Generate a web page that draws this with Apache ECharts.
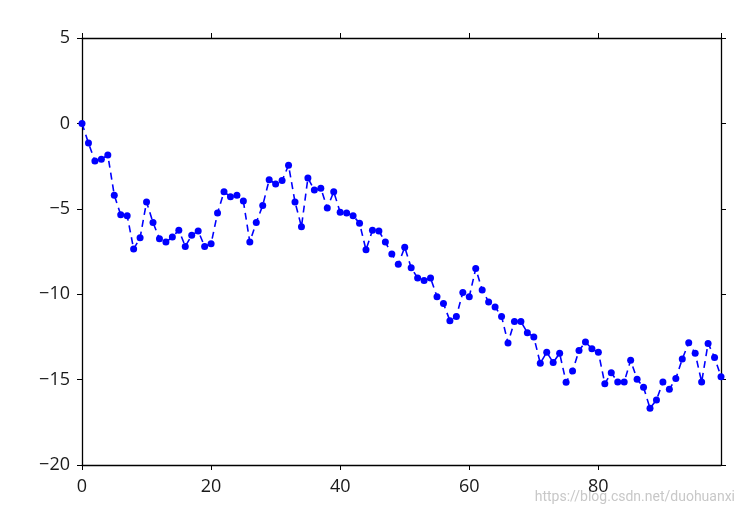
<!DOCTYPE html>
<html>
<head>
<meta charset="utf-8">
<script src="https://cdn.jsdelivr.net/npm/echarts@6/dist/echarts.min.js"></script>
<style>html,body{margin:0;padding:0;background:#fff;}#c{width:743px;height:514px;}</style>
</head>
<body>
<div id="c"></div>
<script>
const xValues = Array.from({length: 100}, (_, i) => i);
const yValues = [
  0, -1.15, -2.2, -2.1, -1.85, -4.2, -5.35, -5.4, -7.35, -6.7,
  -4.6, -5.8, -6.75, -6.95, -6.65, -6.25, -7.2, -6.55, -6.3, -7.2,
  -7.05, -5.25, -4.0, -4.3, -4.2, -4.55, -6.95, -5.8, -4.8, -3.3,
  -3.55, -3.35, -2.45, -4.6, -6.05, -3.2, -3.9, -3.8, -4.95, -4.0,
  -5.2, -5.25, -5.4, -5.85, -7.4, -6.25, -6.3, -6.95, -7.65, -8.25,
  -7.25, -8.45, -9.05, -9.2, -9.05, -10.15, -10.55, -11.55, -11.3, -9.9,
  -10.15, -8.5, -9.75, -10.45, -10.75, -11.3, -12.85, -11.6, -11.6, -12.25,
  -12.5, -14.05, -13.4, -14.0, -13.46, -15.15, -14.5, -13.3, -12.8, -13.2,
  -13.4, -15.24, -14.6, -15.14, -15.14, -13.87, -14.98, -15.45, -16.68, -16.2,
  -15.14, -15.57, -14.93, -13.8, -12.84, -13.46, -15.14, -12.88, -13.7, -14.83
];
const xTicks = [0, 20, 40, 60, 80];
const yTicks = [-20, -15, -10, -5, 0, 5];

const chart = echarts.init(document.getElementById('c'), null, {renderer: 'canvas'});
const fmt = v => String(v).replace('-', '\u2212');
const lineStyle = {color: '#000', width: 1.3};
const labelFont = {color: '#1a1a1a', fontSize: 18, fontFamily: 'Open Sans'};
const axLine = {show: true, onZero: false, lineStyle};
const axTick = {show: true, inside: false, length: 5, lineStyle: {color: '#000', width: 1}};
chart.setOption({
  animation: false,
  backgroundColor: '#fff',
  grid: {left: 82, top: 38, right: 22, bottom: 49, containLabel: false},
  xAxis: [
    {type: 'value', min: 0, max: 99, interval: 20, position: 'bottom',
     axisLine: axLine, axisTick: axTick,
     axisLabel: Object.assign({margin: 13, showMaxLabel: false, formatter: v => xTicks.includes(v) ? fmt(v) : ''}, labelFont),
     splitLine: {show: false}},
    {type: 'value', min: 0, max: 99, interval: 20, position: 'top',
     axisLine: axLine, axisTick: axTick,
     axisLabel: {show: false}, splitLine: {show: false}}
  ],
  yAxis: [
    {type: 'value', min: -20, max: 5, interval: 5, position: 'left',
     axisLine: axLine, axisTick: axTick,
     axisLabel: Object.assign({margin: 12, formatter: v => yTicks.includes(v) ? fmt(v) : ''}, labelFont),
     splitLine: {show: false}},
    {type: 'value', min: -20, max: 5, interval: 5, position: 'right',
     axisLine: axLine, axisTick: axTick,
     axisLabel: {show: false}, splitLine: {show: false}}
  ],
  graphic: [{
    type: 'text', right: 8, bottom: 10,
    style: {text: 'https://blog.csdn.net/duohuanxi', fill: '#c8c8c8', fontSize: 14, fontFamily: 'Liberation Sans Narrow, Roboto'}
  }],
  series: [{
    type: 'line',
    data: xValues.map((x, i) => [x, yValues[i]]),
    symbol: 'circle', symbolSize: 7, showSymbol: true,
    itemStyle: {color: '#0000ff'},
    lineStyle: {color: '#0000ff', width: 1.6, type: [7, 5]},
    clip: false, z: 3
  }]
});
</script>
</body>
</html>
